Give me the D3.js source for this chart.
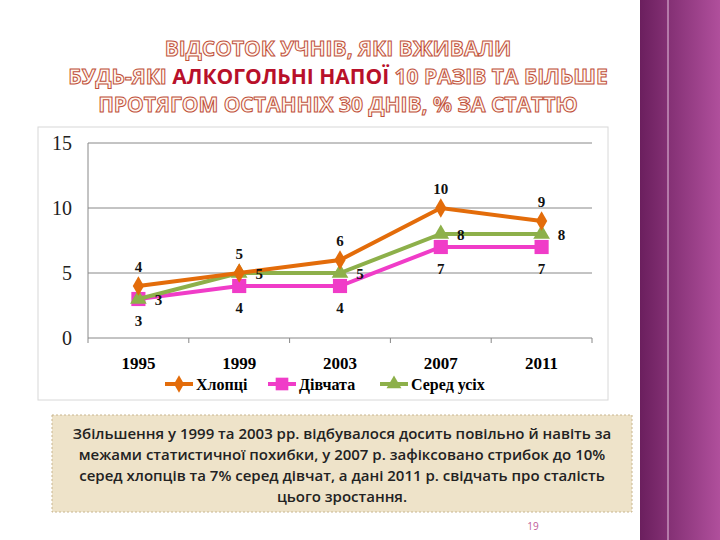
<!DOCTYPE html>
<html><head><meta charset="utf-8">
<script src="https://cdn.jsdelivr.net/npm/d3@7"></script>
<style>body{margin:0;background:#fff}</style>
</head><body>
<svg id="c" width="720" height="540"></svg>
<script>
const years = ["1995", "1999", "2003", "2007", "2011"];
const boys = [4, 5, 6, 10, 9];
const girls = [3, 4, 4, 7, 7];
const all = [3, 5, 5, 8, 8];
const yTicks = [0, 5, 10, 15];

const svg = d3.select("#c");
// right purple strip
const g = svg.append("defs").append("linearGradient").attr("id", "pg").attr("x1", 0).attr("x2", 1);
g.append("stop").attr("offset", 0).attr("stop-color", "#6b1f5e");
g.append("stop").attr("offset", 1).attr("stop-color", "#b04f9c");
svg.append("rect").attr("x", 640).attr("y", 0).attr("width", 80).attr("height", 540).attr("fill", "url(#pg)");
svg.append("line").attr("x1", 668).attr("x2", 668).attr("y1", 0).attr("y2", 540).attr("stroke", "#e6c4df").attr("stroke-width", 1);

// title
const tl = [
  [{t: "ВІДСОТОК УЧНІВ, ЯКІ ВЖИВАЛИ", s: false}],
  [{t: "БУДЬ-ЯКІ ", s: false}, {t: "АЛКОГОЛЬНІ НАПОЇ", s: true}, {t: " 10 РАЗІВ ТА БІЛЬШЕ", s: false}],
  [{t: "ПРОТЯГОМ ОСТАННІХ 30 ДНІВ, % ЗА СТАТТЮ", s: false}]
];
tl.forEach((line, i) => {
  const t = svg.append("text").attr("x", 338).attr("y", 56 + i * 28).attr("text-anchor", "middle")
    .attr("font-family", "Open Sans").attr("font-weight", "bold").attr("font-size", 21);
  line.forEach(p => t.append("tspan").text(p.t)
    .attr("fill", p.s ? "#b8102a" : "#fff6ee")
    .attr("stroke", p.s ? "none" : "#c0503a").attr("stroke-width", 1));
});

// chart box
svg.append("rect").attr("x", 38).attr("y", 127).attr("width", 570).attr("height", 273)
  .attr("fill", "#fff").attr("stroke", "#d8d8d8");

const x = d3.scaleBand().domain(years).range([88, 592]);
const y = d3.scaleLinear().domain([0, 15]).range([338, 143]);

svg.append("g").selectAll("line").data(yTicks).join("line")
  .attr("x1", 88).attr("x2", 592).attr("y1", d => y(d)).attr("y2", d => y(d))
  .attr("stroke", "#888").attr("stroke-width", 1);
svg.append("line").attr("x1", 88).attr("x2", 88).attr("y1", y(15)).attr("y2", y(0)).attr("stroke", "#888");
svg.append("g").selectAll("line").data(d3.range(years.length + 1)).join("line")
  .attr("x1", i => 88 + i * x.bandwidth()).attr("x2", i => 88 + i * x.bandwidth())
  .attr("y1", y(0)).attr("y2", y(0) + 5).attr("stroke", "#888");
svg.append("g").selectAll("text").data(yTicks).join("text")
  .attr("x", 72).attr("y", d => y(d) + 7).attr("text-anchor", "end")
  .attr("font-family", "Liberation Serif").attr("font-size", 20).attr("fill", "#222").text(d => d);
svg.append("g").selectAll("text").data(years).join("text")
  .attr("x", d => x(d) + x.bandwidth() / 2).attr("y", 369).attr("text-anchor", "middle")
  .attr("font-family", "Liberation Serif").attr("font-weight", "bold").attr("font-size", 17).text(d => d);

const cx = d => x(d) + x.bandwidth() / 2;
const series = [
  {name: "Хлопці", v: boys, c: "#e36c0a", shape: d3.symbolDiamond, size: 110, lab: [0, -14]},
  {name: "Серед усіх", v: all, c: "#8db04a", shape: d3.symbolTriangle, size: 120, lab: [20, 6]},
  {name: "Дівчата", v: girls, c: "#f03cc8", shape: d3.symbolSquare, size: 200, lab: [0, 27]}
];
const line = d3.line().x((d, i) => cx(years[i])).y(d => y(d));
const order = [series[2], series[1], series[0]];
order.forEach(s => {
  svg.append("path").attr("d", line(s.v)).attr("fill", "none").attr("stroke", s.c).attr("stroke-width", 4);
  svg.append("g").selectAll("path").data(s.v).join("path")
    .attr("transform", (d, i) => `translate(${cx(years[i])},${y(d)})`)
    .attr("d", d3.symbol().type(s.shape).size(s.size)).attr("fill", s.c);
});
series.forEach(s => {
  svg.append("g").selectAll("text").data(s.v).join("text")
    .attr("x", (d, i) => cx(years[i]) + s.lab[0]).attr("y", d => y(d) + s.lab[1])
    .attr("text-anchor", "middle").attr("font-family", "Liberation Serif").attr("font-weight", "bold")
    .attr("font-size", 15).attr("fill", "#111").text(d => d);
});

// legend
const leg = [
  {s: series[0], x: 165}, {s: series[2], x: 268}, {s: series[1], x: 380}
];
leg.forEach(l => {
  svg.append("line").attr("x1", l.x).attr("x2", l.x + 28).attr("y1", 384).attr("y2", 384).attr("stroke", l.s.c).attr("stroke-width", 4);
  svg.append("path").attr("transform", `translate(${l.x + 14},384)`)
    .attr("d", d3.symbol().type(l.s.shape).size(l.s.size * 0.8)).attr("fill", l.s.c);
  svg.append("text").attr("x", l.x + 31).attr("y", 390).attr("font-family", "Liberation Serif")
    .attr("font-weight", "bold").attr("font-size", 16).text(l.s.name);
});

// text box
svg.append("rect").attr("x", 52).attr("y", 415).attr("width", 580).attr("height", 97)
  .attr("fill", "#eee3c9").attr("stroke", "#c9b68f").attr("stroke-dasharray", "2,2");
const body = [
  "Збільшення у 1999 та 2003 рр. відбувалося досить повільно й навіть за",
  "межами статистичної похибки, у 2007 р. зафіксовано стрибок до 10%",
  "серед хлопців та 7% серед дівчат, а дані 2011 р. свідчать  про сталість",
  "цього зростання."
];
svg.append("g").selectAll("text").data(body).join("text")
  .attr("x", 342).attr("y", (d, i) => 439 + i * 21).attr("text-anchor", "middle")
  .attr("font-family", "Open Sans").attr("font-weight", 600).attr("font-size", 15).attr("fill", "#222").text(d => d);
svg.append("text").attr("x", 533).attr("y", 530).attr("text-anchor", "middle")
  .attr("font-family", "Open Sans").attr("font-size", 10).attr("fill", "#c0609a").text("19");
</script>
</body></html>
